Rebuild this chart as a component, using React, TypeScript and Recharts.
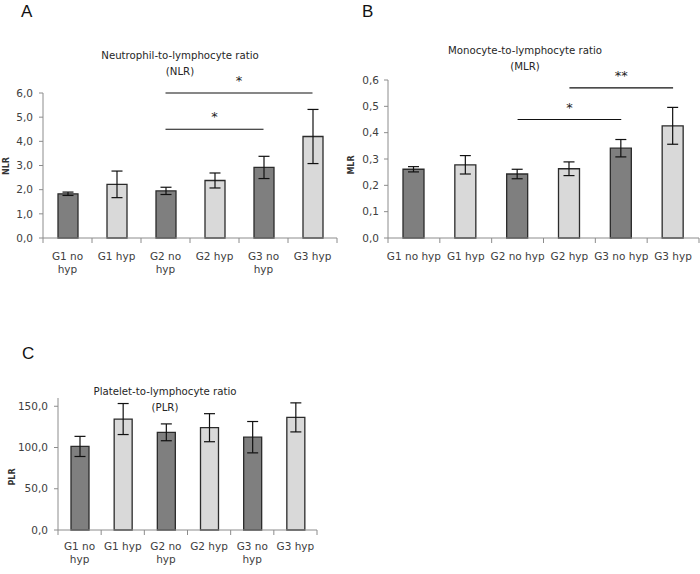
import React from "react";
import {
  BarChart,
  Bar,
  XAxis,
  YAxis,
  Cell,
  ErrorBar,
  ReferenceLine,
} from "recharts";

// groups on the x axis
const categories = ["G1 no hyp", "G1 hyp", "G2 no hyp", "G2 hyp", "G3 no hyp", "G3 hyp"];

// A: NLR
const nlrMean = [1.83, 2.22, 1.95, 2.38, 2.92, 4.2];
const nlrErr = [0.07, 0.55, 0.15, 0.31, 0.46, 1.12];
const nlrTicks = [0, 1, 2, 3, 4, 5, 6];
const nlrSig = [
  { from: "G2 no hyp", to: "G3 no hyp", y: 4.5, label: "*" },
  { from: "G2 no hyp", to: "G3 hyp", y: 6.0, label: "*" },
];

// B: MLR
const mlrMean = [0.261, 0.278, 0.243, 0.263, 0.341, 0.426];
const mlrErr = [0.01, 0.035, 0.018, 0.026, 0.033, 0.07];
const mlrTicks = [0, 0.1, 0.2, 0.3, 0.4, 0.5, 0.6];
const mlrSig = [
  { from: "G2 no hyp", to: "G3 no hyp", y: 0.45, label: "*" },
  { from: "G2 hyp", to: "G3 hyp", y: 0.57, label: "**" },
];

// C: PLR
const plrMean = [101.3, 134.5, 118.4, 124.0, 112.5, 136.5];
const plrErr = [12.2, 18.8, 10.2, 17.0, 19.0, 17.6];
const plrTicks = [0, 50, 100, 150];

const DARK = "#7f7f7f";
const LIGHT = "#d9d9d9";
const EDGE = "#2b2b2b";
const AXIS = "#8c8c8c";
const TEXT = "#404040";
const FONT = "'DejaVu Sans', Verdana, sans-serif";

const comma = (v: number) => v.toFixed(1).replace(".", ",");

type Sig = { from: string; to: string; y: number; label: string };

interface PanelProps {
  left: number;
  top: number;
  width: number;
  height: number;
  margin: { top: number; right: number; bottom: number; left: number };
  yWidth: number;
  tickMargin: number;
  means: number[];
  errs: number[];
  domain: [number, number];
  ticks: number[];
  sig?: Sig[];
  wrap: boolean;
  barSize: number;
  labelDy: number[];
}

function Panel(p: PanelProps) {
  const data = categories.map((name, i) => ({ name, value: p.means[i], err: p.errs[i] }));
  const plotW = p.width - p.margin.left - p.margin.right - p.yWidth;
  const band = plotW / categories.length;

  const XTick = (props: any) => {
    const { x, y, payload, index } = props;
    const label: string = payload.value;
    const lines = p.wrap && label.includes(" no ") ? [label.replace(" hyp", ""), "hyp"] : [label];
    return (
      <g>
        <line x1={x - band / 2} x2={x - band / 2} y1={y} y2={y + 5} stroke={AXIS} />
        {index === categories.length - 1 && (
          <line x1={x + band / 2} x2={x + band / 2} y1={y} y2={y + 5} stroke={AXIS} />
        )}
        {lines.map((t, k) => (
          <text
            key={k}
            x={x}
            y={y + p.labelDy[k]}
            textAnchor="middle"
            fontSize={10.5}
            fontFamily={FONT}
            fill={TEXT}
          >
            {t}
          </text>
        ))}
      </g>
    );
  };

  return (
    <div style={{ position: "absolute", left: p.left, top: p.top }}>
      <BarChart width={p.width} height={p.height} data={data} margin={p.margin} barSize={p.barSize}>
        <XAxis
          dataKey="name"
          interval={0}
          tickLine={false}
          tickSize={0}
          tickMargin={0}
          axisLine={{ stroke: AXIS }}
          height={40}
          tick={<XTick />}
        />
        <YAxis
          type="number"
          domain={p.domain}
          ticks={p.ticks}
          width={p.yWidth}
          tickFormatter={comma}
          axisLine={{ stroke: AXIS }}
          tickLine={{ stroke: AXIS }}
          tickSize={4}
          tickMargin={p.tickMargin}
          tick={{ fontSize: 10.5, fontFamily: FONT, fill: TEXT }}
          interval={0}
        />
        <Bar dataKey="value" stroke={EDGE} strokeWidth={1.3} isAnimationActive={false}>
          {data.map((d) => (
            <Cell key={d.name} fill={d.name.includes("no hyp") ? DARK : LIGHT} />
          ))}
          <ErrorBar dataKey="err" width={5.5} stroke="#111" strokeWidth={1.2} />
        </Bar>
        {(p.sig || []).map((s, i) => (
          <ReferenceLine
            key={i}
            segment={[
              { x: s.from, y: s.y },
              { x: s.to, y: s.y },
            ]}
            stroke="#111"
            strokeWidth={1.2}
            ifOverflow="visible"
            label={{
              value: s.label,
              position: "top",
              offset: 8,
              fontSize: 13,
              fontFamily: FONT,
              fill: "#222",
            }}
          />
        ))}
      </BarChart>
    </div>
  );
}

function Title({ x, y, lines }: { x: number; y: number; lines: string[] }) {
  return (
    <div
      style={{
        position: "absolute",
        left: x,
        top: y,
        transform: "translateX(-50%)",
        fontFamily: FONT,
        fontSize: 10.2,
        lineHeight: "15.5px",
        color: "#262626",
        textAlign: "center",
        whiteSpace: "nowrap",
      }}
    >
      {lines.map((l) => (
        <div key={l}>{l}</div>
      ))}
    </div>
  );
}

function Letter({ x, y, t }: { x: number; y: number; t: string }) {
  return (
    <div
      style={{
        position: "absolute",
        left: x,
        top: y,
        fontFamily: "'Liberation Sans', Arial, sans-serif",
        fontSize: 17,
        lineHeight: "17px",
        color: "#111",
      }}
    >
      {t}
    </div>
  );
}

function YLabel({ x, y, t }: { x: number; y: number; t: string }) {
  return (
    <div
      style={{
        position: "absolute",
        left: x,
        top: y,
        transform: "translate(-50%, -50%) rotate(-90deg)",
        fontFamily: FONT,
        fontSize: 8,
        fontWeight: "bold",
        color: "#333",
        whiteSpace: "nowrap",
      }}
    >
      {t}
    </div>
  );
}

export default function App() {
  return (
    <div
      style={{
        position: "absolute",
        left: 0,
        top: 0,
        width: 700,
        height: 574,
        background: "#fff",
        overflow: "hidden",
      }}
    >
      <Panel
        left={0}
        top={0}
        width={350}
        height={290}
        margin={{ top: 93, right: 13, bottom: 12, left: 0 }}
        yWidth={43}
        tickMargin={6}
        means={nlrMean}
        errs={nlrErr}
        domain={[0, 6]}
        ticks={nlrTicks}
        sig={nlrSig}
        wrap={true}
        barSize={20}
        labelDy={[22, 35]}
      />
      <Panel
        left={350}
        top={0}
        width={350}
        height={290}
        margin={{ top: 80, right: 1, bottom: 12, left: 0 }}
        yWidth={38}
        tickMargin={5}
        means={mlrMean}
        errs={mlrErr}
        domain={[0, 0.6]}
        ticks={mlrTicks}
        sig={mlrSig}
        wrap={false}
        barSize={21}
        labelDy={[22, 35]}
      />
      <Panel
        left={0}
        top={330}
        width={350}
        height={244}
        margin={{ top: 68, right: 33, bottom: 4, left: 0 }}
        yWidth={58}
        tickMargin={6}
        means={plrMean}
        errs={plrErr}
        domain={[0, 160]}
        ticks={plrTicks}
        wrap={true}
        barSize={18}
        labelDy={[20, 33]}
      />

      <Letter x={21} y={3} t="A" />
      <Letter x={362} y={3} t="B" />
      <Letter x={22} y={345} t="C" />

      <Title x={180} y={48} lines={["Neutrophil-to-lymphocyte ratio", "(NLR)"]} />
      <Title x={525} y={43} lines={["Monocyte-to-lymphocyte  ratio", "(MLR)"]} />
      <Title x={165} y={384} lines={["Platelet-to-lymphocyte  ratio", "(PLR)"]} />

      <YLabel x={6} y={166} t="NLR" />
      <YLabel x={351} y={165} t="MLR" />
      <YLabel x={12} y={477} t="PLR" />
    </div>
  );
}
